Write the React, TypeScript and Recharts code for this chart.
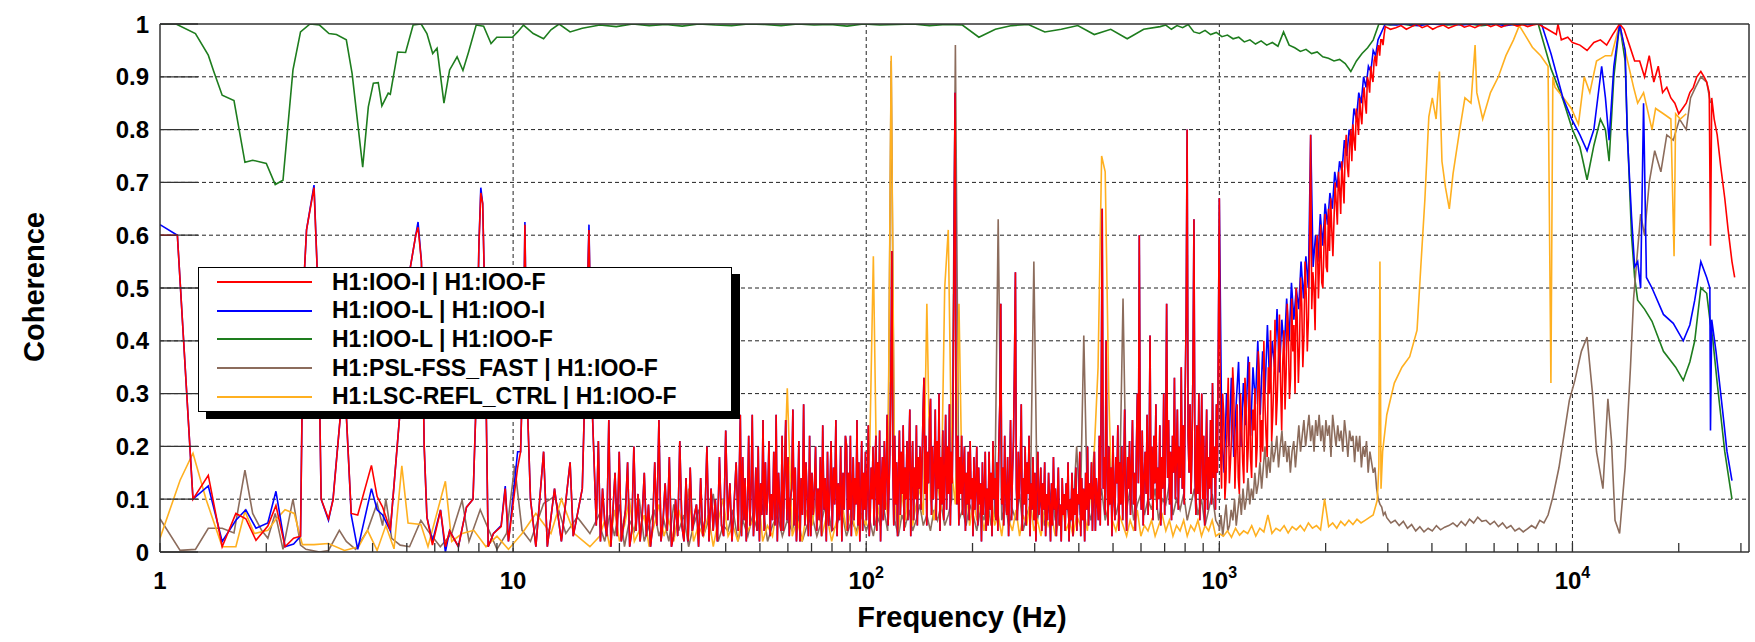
import React from 'react'
import { LineChart, Line, XAxis, YAxis, ReferenceLine } from 'recharts'

type Pt = { f: number; v: number }

const FONT = '"Liberation Sans", Arial, Helvetica, sans-serif'

// ---- axes ----
const freqRange: [number, number] = [1, 31623]
const decades = [1, 10, 100, 1000, 10000]
const freqMinor = decades
    .flatMap(d => [1, 2, 3, 4, 5, 6, 7, 8, 9].map(m => m * d))
    .filter(f => f <= 30000)
const cohTicks = [0, 0.1, 0.2, 0.3, 0.4, 0.5, 0.6, 0.7, 0.8, 0.9, 1]
const cohLabels = ['0', '0.1', '0.2', '0.3', '0.4', '0.5', '0.6', '0.7', '0.8', '0.9', '1']
const cohMinor = Array.from({ length: 51 }, (_, i) => i / 50)
const gridCoh = [0.1, 0.2, 0.3, 0.4, 0.5, 0.6, 0.7, 0.8, 0.9]
const gridFreq = [10, 100, 1000, 10000]

// ---- 1 - 17 Hz, common frequency grid for the IOO-I and IOO-L traces ----
const lowFreq = [1, 1.12, 1.24, 1.37, 1.5, 1.64, 1.75, 1.87, 2.02, 2.13, 2.26, 2.39, 2.5, 2.55, 2.6,
    2.73, 2.8, 2.86, 3.0, 3.09, 3.24, 3.37, 3.48, 3.63, 3.97, 4.12, 4.27, 4.49, 4.77, 5.0, 5.3, 5.38,
    5.5, 5.6, 5.7, 5.91, 6.23, 6.43, 6.61, 7.0, 7.38, 7.7, 7.86, 8.0, 8.1, 8.2, 8.3, 8.4, 8.5, 8.8,
    9.25, 9.5, 9.7, 10.3, 10.5, 10.7, 10.8, 10.95, 11.2, 11.6, 12.2, 12.5, 13.1, 13.7, 14.5, 14.8,
    15.7, 16.1, 16.4, 16.7, 17.2]

// H1:IOO-I | H1:IOO-F
const ioiLow = [0.6, 0.6, 0.1, 0.145, 0.01, 0.073, 0.063, 0.022, 0.049, 0.088, 0.01, 0.026, 0.03, 0.5,
    0.61, 0.69, 0.5, 0.1, 0.063, 0.098, 0.256, 0.26, 0.073, 0.07, 0.164, 0.105, 0.085, 0.041, 0.256, 0.5,
    0.6, 0.615, 0.55, 0.2, 0.066, 0.013, 0.079, 0.01, 0.04, 0.01, 0.085, 0.1, 0.29, 0.58, 0.68, 0.66,
    0.5, 0.25, 0.01, 0.035, 0.048, 0.12, 0.02, 0.16, 0.19, 0.4, 0.62, 0.3, 0.1, 0.01, 0.19, 0.01, 0.12,
    0.02, 0.17, 0.03, 0.12, 0.4, 0.61, 0.3, 0.05]
const ioi17to44 = [0.05, 0.21, 0.02, 0.12, 0.06, 0.03, 0.25, 0.01, 0.08, 0.15, 0.03, 0.19, 0.02, 0.05,
    0.08, 0.17, 0.01, 0.04, 0.2, 0.04, 0.11, 0.02, 0.07, 0.15, 0.03, 0.09, 0.01, 0.05, 0.17, 0.05, 0.25,
    0.02, 0.06, 0.13, 0.04, 0.18, 0.01, 0.03, 0.1, 0.03, 0.21, 0.05, 0.02, 0.14, 0.02, 0.16, 0.04, 0.07,
    0.09, 0.01, 0.14, 0.03, 0.06, 0.2, 0.02, 0.12, 0.04, 0.1, 0.02, 0.18, 0.05, 0.03, 0.23, 0.06, 0.13,
    0.02, 0.09, 0.17, 0.04, 0.26]
const ioi44to88 = [0.26, 0.03, 0.18, 0.06, 0.14, 0.02, 0.09, 0.22, 0.05, 0.12, 0.26, 0.03, 0.08, 0.16,
    0.04, 0.2, 0.02, 0.13, 0.07, 0.25, 0.04, 0.17, 0.07, 0.11, 0.21, 0.03, 0.11, 0.06, 0.19, 0.05, 0.26,
    0.02, 0.15, 0.09, 0.04, 0.22, 0.04, 0.14, 0.25, 0.06, 0.18, 0.03, 0.1, 0.12, 0.27, 0.05, 0.16, 0.02,
    0.08, 0.21, 0.02, 0.14, 0.07, 0.28, 0.05, 0.17, 0.1, 0.03, 0.22, 0.03, 0.15, 0.07, 0.12, 0.2, 0.04,
    0.12, 0.06, 0.18, 0.03, 0.24, 0.08, 0.14, 0.02, 0.19, 0.05, 0.11, 0.21, 0.04, 0.16, 0.09, 0.25, 0.03,
    0.13, 0.06, 0.2, 0.02, 0.15, 0.08, 0.22, 0.2]
const ioi88to220 = [0.2, 0.04, 0.15, 0.08, 0.22, 0.03, 0.12, 0.18, 0.06, 0.14,
    0.09, 0.25, 0.05, 0.17, 0.02, 0.11, 0.21, 0.04, 0.15, 0.08,
    0.19, 0.06, 0.13, 0.24, 0.03, 0.07, 0.16, 0.1, 0.2, 0.05,
    0.14, 0.22, 0.04, 0.17, 0.09, 0.23, 0.02, 0.13, 0.18, 0.06,
    0.21, 0.08, 0.15, 0.26, 0.05, 0.12, 0.2, 0.35, 0.57, 0.16,
    0.05, 0.22, 0.09, 0.17, 0.03, 0.15, 0.23, 0.07, 0.19, 0.11,
    0.24, 0.04, 0.16, 0.1, 0.21, 0.06, 0.18, 0.27, 0.03, 0.14,
    0.21, 0.06, 0.16, 0.1, 0.24, 0.05, 0.18, 0.12, 0.2, 0.08,
    0.17, 0.26, 0.33, 0.11, 0.22, 0.05, 0.19, 0.13, 0.25, 0.29,
    0.07, 0.2, 0.1, 0.16, 0.27, 0.06, 0.21, 0.12, 0.3, 0.04,
    0.18, 0.09, 0.23, 0.06, 0.15, 0.26, 0.08, 0.2, 0.11, 0.28,
    0.05, 0.19, 0.13, 0.31, 0.6, 0.87, 0.24, 0.09, 0.22, 0.05,
    0.18, 0.11, 0.22, 0.07, 0.16, 0.2, 0.04, 0.15, 0.09, 0.19,
    0.06, 0.21, 0.1, 0.14, 0.03, 0.18, 0.08, 0.12, 0.2, 0.05,
    0.16, 0.09, 0.13, 0.02, 0.17, 0.07, 0.11, 0.19, 0.04, 0.12]
const ioi220to440 = [0.12, 0.05, 0.19, 0.08, 0.15, 0.03, 0.21, 0.1, 0.14, 0.06,
    0.17, 0.04, 0.2, 0.28, 0.47, 0.09, 0.16, 0.05, 0.22, 0.11,
    0.07, 0.18, 0.03, 0.13, 0.25, 0.06, 0.15, 0.21, 0.35, 0.53,
    0.12, 0.06, 0.19, 0.1, 0.16, 0.28, 0.04, 0.14, 0.09, 0.2,
    0.05, 0.17, 0.11, 0.22, 0.03, 0.13, 0.08, 0.18, 0.06, 0.15,
    0.02, 0.12, 0.19, 0.07, 0.1, 0.16, 0.04, 0.13, 0.08, 0.17,
    0.03, 0.11, 0.06, 0.15, 0.09, 0.02, 0.13, 0.05, 0.18, 0.08,
    0.12, 0.03, 0.1, 0.16, 0.05, 0.09, 0.02, 0.14, 0.07, 0.11,
    0.04, 0.13, 0.08, 0.17, 0.02, 0.1, 0.06, 0.15, 0.03, 0.12,
    0.07, 0.16, 0.04, 0.11, 0.09, 0.19, 0.03, 0.14, 0.06, 0.12,
    0.02, 0.15, 0.08, 0.2, 0.05, 0.13, 0.1, 0.17, 0.04, 0.12]
const ioi440to1k = [0.12, 0.19, 0.04, 0.14, 0.1, 0.06, 0.22, 0.05, 0.3, 0.65,
    0.12, 0.18, 0.07, 0.4, 0.15, 0.05, 0.2, 0.09, 0.16, 0.03,
    0.22, 0.11, 0.06, 0.18, 0.13, 0.24, 0.04, 0.17, 0.09, 0.2,
    0.06, 0.14, 0.27, 0.1, 0.04, 0.18, 0.12, 0.21, 0.07, 0.16,
    0.25, 0.09, 0.15, 0.04, 0.19, 0.3, 0.13, 0.6, 0.18, 0.08,
    0.23, 0.05, 0.14, 0.19, 0.11, 0.26, 0.07, 0.17, 0.41, 0.1,
    0.2, 0.06, 0.22, 0.13, 0.28, 0.08, 0.16, 0.1, 0.24, 0.05,
    0.18, 0.12, 0.3, 0.07, 0.21, 0.47, 0.14, 0.25, 0.09, 0.19,
    0.06, 0.22, 0.15, 0.33, 0.1, 0.18, 0.27, 0.08, 0.2, 0.14,
    0.35, 0.12, 0.24, 0.09, 0.3, 0.45, 0.8, 0.22, 0.15, 0.28,
    0.11, 0.2, 0.35, 0.63, 0.15, 0.07, 0.24, 0.11, 0.3, 0.06,
    0.19, 0.3, 0.1, 0.22, 0.05, 0.15, 0.27, 0.08, 0.18, 0.12,
    0.25, 0.09, 0.32, 0.14, 0.2, 0.08, 0.28, 0.15, 0.4, 0.67]
const ioiRise = [0.67, 0.2, 0.12, 0.3, 0.26, 0.1, 0.14, 0.25, 0.33, 0.13,
    0.17, 0.22, 0.35, 0.3, 0.12, 0.19, 0.28, 0.14, 0.11, 0.3,
    0.24, 0.17, 0.13, 0.33, 0.29, 0.15, 0.2, 0.36, 0.18, 0.14,
    0.27, 0.23, 0.31, 0.16, 0.2, 0.38, 0.33, 0.17, 0.25, 0.19,
    0.4, 0.28, 0.22, 0.18, 0.35, 0.3, 0.42, 0.21, 0.26, 0.33,
    0.44, 0.24, 0.29, 0.37, 0.45, 0.32, 0.23, 0.36, 0.42, 0.27,
    0.34, 0.47, 0.41, 0.29, 0.33, 0.48, 0.38, 0.43, 0.3, 0.5,
    0.44, 0.32, 0.39, 0.52, 0.47, 0.35, 0.41, 0.55, 0.49, 0.38,
    0.44, 0.57, 0.79, 0.46, 0.53, 0.5, 0.42, 0.58, 0.6, 0.48,
    0.55, 0.62, 0.51, 0.5, 0.58, 0.64, 0.54, 0.53, 0.65, 0.57,
    0.67, 0.61, 0.56, 0.63, 0.7, 0.66, 0.62, 0.72, 0.69, 0.64,
    0.74, 0.7, 0.66, 0.76, 0.79, 0.73, 0.71, 0.77, 0.8, 0.74,
    0.81, 0.78, 0.76, 0.84, 0.82, 0.79, 0.86, 0.83, 0.81, 0.86,
    0.88, 0.85, 0.83, 0.9, 0.89, 0.87, 0.92, 0.9, 0.89, 0.93,
    0.94, 0.92, 0.95, 0.96, 0.94, 0.97, 0.97, 0.96, 0.98, 0.995]
const ioiFlat = [0.995, 0.99, 0.993, 0.997, 0.99, 0.995, 1.0, 0.993, 0.997, 0.99, 0.995, 0.998, 0.992,
    0.996, 1.0, 0.994, 0.997, 0.993, 0.998, 1.0, 0.995, 0.999, 0.994, 0.998, 1.0, 0.996, 0.999, 0.995,
    0.998, 1.0]
const ioiHighFreq = [8000, 8500, 9000, 9100, 9300, 9700, 10000, 10500, 11000, 11500, 12000, 12500,
    13000, 13600, 14000, 14500, 15000, 15500, 16000, 16500, 17000, 17500, 18000, 18500, 19000, 19500,
    20000, 20500, 21000, 21500, 22000, 22500, 23100, 23600, 24000, 24400, 24600, 24800, 25200, 25700,
    26300, 27000, 27600, 28300, 28800]
const ioiHigh = [1.0, 0.99, 0.98, 1.0, 0.97, 0.975, 0.965, 0.96, 0.95, 0.965, 0.97, 0.96, 0.98, 1.0,
    0.99, 0.96, 0.93, 0.93, 0.9, 0.94, 0.89, 0.92, 0.87, 0.88, 0.86, 0.85, 0.83, 0.84, 0.85, 0.87, 0.88,
    0.9, 0.91, 0.9, 0.89, 0.87, 0.58, 0.86, 0.82, 0.79, 0.73, 0.67, 0.61, 0.55, 0.52]

// H1:IOO-L | H1:IOO-I (follows IOO-I | IOO-F between 17 Hz and 1 kHz)
const iolLow = [0.62, 0.6, 0.1, 0.125, 0.02, 0.06, 0.08, 0.045, 0.055, 0.115, 0.01, 0.015, 0.03, 0.5,
    0.61, 0.695, 0.5, 0.1, 0.06, 0.1, 0.256, 0.26, 0.07, 0.005, 0.12, 0.08, 0.07, 0.04, 0.256, 0.5,
    0.6, 0.625, 0.55, 0.2, 0.066, 0.02, 0.08, 0.0, 0.04, 0.01, 0.085, 0.1, 0.29, 0.58, 0.69, 0.66, 0.5,
    0.25, 0.01, 0.035, 0.05, 0.125, 0.02, 0.19, 0.19, 0.4, 0.625, 0.3, 0.1, 0.01, 0.19, 0.01, 0.12,
    0.02, 0.17, 0.03, 0.12, 0.4, 0.62, 0.3, 0.05]
const iolRise = [0.67, 0.22, 0.15, 0.3, 0.2, 0.33, 0.18, 0.28, 0.36, 0.2,
    0.32, 0.24, 0.37, 0.22, 0.35, 0.28, 0.4, 0.26, 0.38, 0.3,
    0.43, 0.31, 0.4, 0.35, 0.46, 0.34, 0.44, 0.38, 0.48, 0.4,
    0.51, 0.44, 0.5, 0.46, 0.55, 0.48, 0.56, 0.5, 0.79, 0.54,
    0.6, 0.55, 0.64, 0.58, 0.66, 0.62, 0.68, 0.65, 0.72, 0.69,
    0.74, 0.72, 0.78, 0.75, 0.8, 0.78, 0.84, 0.82, 0.87, 0.85,
    0.9, 0.88, 0.92, 0.91, 0.95, 0.94, 0.97, 0.98, 0.99, 1.0]
const iolFlat = [1.0, 0.998, 1.0, 0.997, 1.0, 0.999, 1.0, 0.998, 1.0, 0.999, 1.0, 0.997, 1.0, 0.999, 1.0]
const iolHighFreq = [8000, 8200, 8700, 9400, 9950, 10500, 11000, 11500, 12100, 12400, 12700, 13100,
    13600, 14100, 14300, 14700, 15000, 15300, 15600, 15900, 16200, 16800, 18100, 19300, 20600, 21500,
    22200, 23100, 24000, 24500, 24600, 24800, 25500, 26600, 27400, 28300]
const iolHigh = [1.0, 0.997, 0.943, 0.86, 0.82, 0.79, 0.76, 0.8, 0.92, 0.86, 0.78, 0.92, 1.0, 0.95,
    0.79, 0.636, 0.54, 0.55, 0.5, 0.85, 0.52, 0.5, 0.45, 0.433, 0.4, 0.43, 0.477, 0.55, 0.52, 0.5, 0.23,
    0.44, 0.38, 0.27, 0.19, 0.135]

// H1:IOO-L | H1:IOO-F
const iofLowFreq = [1, 1.11, 1.26, 1.37, 1.42, 1.5, 1.62, 1.74, 1.83, 2.0, 2.12, 2.23, 2.38, 2.5, 2.66,
    2.83, 3.01, 3.16, 3.37, 3.5, 3.75, 3.89, 4.02, 4.15, 4.25, 4.43, 4.49, 4.71, 4.96, 5.21, 5.49, 5.7,
    5.92, 6.09, 6.37, 6.61, 6.94, 7.21, 7.48, 7.86, 8.25, 8.66, 8.99, 9.95, 10.3, 10.7, 11.4, 12.2,
    12.8, 13.5, 14.5, 15.7, 17.6]
const iofLow = [1.0, 1.0, 0.982, 0.941, 0.91, 0.865, 0.855, 0.738, 0.742, 0.736, 0.696, 0.704, 0.913,
    0.985, 1.0, 0.998, 0.982, 0.98, 0.97, 0.906, 0.729, 0.843, 0.888, 0.889, 0.845, 0.869, 0.867, 0.947,
    0.946, 0.998, 1.0, 0.982, 0.944, 0.954, 0.85, 0.913, 0.938, 0.912, 0.947, 0.998, 0.996, 0.963,
    0.975, 0.975, 0.985, 0.998, 0.982, 0.972, 0.989, 1.0, 0.985, 0.992, 0.998]
const iofMid = [0.998, 0.995, 1.0, 0.997, 0.999, 0.996, 1.0, 0.998, 0.997, 1.0, 0.999, 0.997, 1.0,
    0.998, 0.999, 0.996, 1.0, 0.998, 0.999, 1.0, 0.997, 0.999, 0.998, 0.975, 0.99, 0.997, 0.999, 0.985,
    0.99, 0.997, 0.98, 0.99, 0.972, 0.99, 0.995]
const iofDip = [0.995, 0.998, 0.99, 0.997, 0.993, 0.999, 0.985, 0.982, 0.988, 0.98, 0.984, 0.976,
    0.979, 0.972, 0.975, 0.966, 0.97, 0.962, 0.968, 0.96, 0.965, 0.958, 0.985, 0.96, 0.955, 0.948,
    0.952, 0.944, 0.947, 0.938, 0.935, 0.93, 0.933, 0.925, 0.91, 0.93, 0.944, 0.955, 0.97, 1.0]
const iofFlat = [1.0, 0.998, 1.0, 0.997, 0.999, 1.0, 0.998, 0.999, 1.0, 0.997, 0.999, 1.0, 0.998, 0.999, 1.0]
const iofHighFreq = [8000, 8700, 9400, 10000, 10500, 11000, 11500, 12000, 12400, 12700, 13100, 13600,
    14100, 14300, 14700, 15000, 15300, 16000, 16800, 18100, 19600, 20600, 21500, 22200, 23100, 24000,
    24500, 25000, 25700, 27000, 28300]
const iofHigh = [1.0, 0.915, 0.857, 0.8, 0.767, 0.705, 0.77, 0.82, 0.8, 0.74, 0.9, 1.0, 0.93, 0.8, 0.6,
    0.52, 0.477, 0.46, 0.437, 0.38, 0.35, 0.325, 0.36, 0.4, 0.5, 0.49, 0.44, 0.4, 0.32, 0.19, 0.1]

// H1:PSL-FSS_FAST | H1:IOO-F
const fssLowFreq = [1, 1.14, 1.26, 1.37, 1.5, 1.62, 1.74, 1.83, 1.94, 2.02, 2.12, 2.23, 2.38, 2.5,
    2.59, 2.83, 3.0, 3.22, 3.37, 3.58, 3.87, 4.12, 4.27, 4.36, 4.53, 4.79, 5.09, 5.48, 5.74, 6.22, 6.7,
    7.17, 7.5, 8.07, 8.73, 9.0, 9.58, 10.1, 10.6, 11.2, 12.2, 13.1, 14.1, 15.2, 16.5, 17.6]
const fssLow = [0.063, 0.003, 0.005, 0.045, 0.045, 0.036, 0.155, 0.073, 0.041, 0.026, 0.073, 0.005,
    0.1, 0.013, 0.005, 0.0, 0.003, 0.041, 0.02, 0.005, 0.041, 0.092, 0.05, 0.1, 0.026, 0.013, 0.01,
    0.06, 0.04, 0.01, 0.035, 0.098, 0.02, 0.08, 0.026, 0.005, 0.035, 0.163, 0.041, 0.02, 0.092, 0.105,
    0.035, 0.066, 0.035, 0.073]
const fss17to100 = [0.05, 0.02, 0.07, 0.03, 0.09, 0.01, 0.06, 0.04, 0.1, 0.02, 0.05, 0.08, 0.03, 0.06,
    0.02, 0.09, 0.04, 0.07, 0.01, 0.05, 0.08, 0.03, 0.06, 0.11, 0.02, 0.05, 0.04, 0.08, 0.02, 0.06, 0.03,
    0.07, 0.04, 0.09, 0.02, 0.05, 0.07, 0.03, 0.06, 0.04, 0.08, 0.02, 0.05, 0.07, 0.03, 0.06, 0.1, 0.04,
    0.05, 0.08, 0.03, 0.06, 0.04, 0.07, 0.04]
const fss100to1k = [0.04, 0.06, 0.03, 0.07, 0.05, 0.08, 0.04, 0.93, 0.06, 0.03,
    0.07, 0.05, 0.08, 0.04, 0.06, 0.09, 0.05, 0.07, 0.04, 0.08,
    0.06, 0.09, 0.05, 0.07, 0.1, 0.96, 0.06, 0.08, 0.05, 0.09,
    0.07, 0.04, 0.08, 0.06, 0.1, 0.05, 0.07, 0.63, 0.06, 0.09,
    0.05, 0.08, 0.06, 0.11, 0.04, 0.07, 0.09, 0.55, 0.06, 0.1,
    0.05, 0.08, 0.12, 0.06, 0.09, 0.07, 0.11, 0.05, 0.08, 0.2,
    0.07, 0.41, 0.09, 0.06, 0.1, 0.08, 0.12, 0.06, 0.09, 0.11,
    0.07, 0.1, 0.48, 0.08, 0.12, 0.06, 0.09, 0.11, 0.07, 0.1,
    0.08, 0.12, 0.06, 0.1, 0.09, 0.13, 0.07, 0.1, 0.08, 0.11,
    0.06, 0.09, 0.12, 0.07, 0.1, 0.05, 0.08, 0.11, 0.06, 0.047]
const fssHump = [0.04, 0.07, 0.03, 0.06, 0.09, 0.04, 0.05, 0.08, 0.06, 0.1,
    0.05, 0.08, 0.11, 0.07, 0.12, 0.08, 0.1, 0.14, 0.09, 0.12,
    0.1, 0.15, 0.11, 0.13, 0.17, 0.12, 0.16, 0.2, 0.14, 0.18,
    0.15, 0.21, 0.17, 0.19, 0.22, 0.16, 0.2, 0.23, 0.18, 0.21,
    0.17, 0.2, 0.15, 0.19, 0.21, 0.16, 0.2, 0.24, 0.19, 0.22,
    0.25, 0.2, 0.23, 0.26, 0.21, 0.24, 0.19, 0.25, 0.22, 0.26,
    0.21, 0.24, 0.19, 0.25, 0.22, 0.24, 0.18, 0.26, 0.23, 0.2,
    0.24, 0.21, 0.23, 0.19, 0.25, 0.22, 0.18, 0.23, 0.21, 0.22,
    0.17, 0.22, 0.19, 0.22, 0.16, 0.2, 0.18, 0.21, 0.15, 0.19,
    0.17, 0.15, 0.16, 0.12, 0.1, 0.09, 0.085, 0.07, 0.075, 0.065]
const fssQuiet = [0.065, 0.055, 0.06, 0.05, 0.058, 0.045, 0.052, 0.04, 0.048, 0.038, 0.045, 0.04, 0.05,
    0.042, 0.047, 0.05, 0.055, 0.048, 0.058, 0.05, 0.062, 0.055, 0.066, 0.058, 0.06, 0.052, 0.058,
    0.048, 0.055, 0.045, 0.05, 0.04, 0.045, 0.038, 0.044, 0.05, 0.045, 0.06, 0.055, 0.07]
const fssHighFreq = [8800, 9160, 9800, 10160, 10600, 11000, 11400, 11700, 12200, 12600, 12900, 13200,
    13600, 14100, 14600, 14900, 15200, 15600, 16000, 16500, 17100, 17800, 18500, 19300, 20100, 21000,
    21600, 22300, 23100, 24000, 24600]
const fssHigh = [0.104, 0.16, 0.287, 0.325, 0.38, 0.407, 0.3, 0.19, 0.12, 0.29, 0.21, 0.06, 0.035, 0.16,
    0.35, 0.48, 0.55, 0.64, 0.6, 0.7, 0.76, 0.72, 0.79, 0.78, 0.82, 0.8, 0.86, 0.88, 0.9, 0.89, 0.85]

// H1:LSC-REFL_CTRL | H1:IOO-F
const reflLowFreq = [1, 1.14, 1.24, 1.35, 1.5, 1.64, 1.74, 1.85, 2.02, 2.12, 2.26, 2.4, 2.53, 2.73, 3.0,
    3.33, 3.65, 3.87, 4.12, 4.36, 4.6, 4.84, 5.04, 5.48, 5.74, 6.43, 6.7, 7.17, 7.74, 8.38, 9.0, 9.7,
    10.6, 11.6, 12.8, 13.7, 14.9, 16.5, 17.6]
const reflLow = [0.026, 0.136, 0.187, 0.1, 0.01, 0.01, 0.077, 0.035, 0.041, 0.06, 0.08, 0.073, 0.014,
    0.014, 0.016, 0.003, 0.01, 0.041, 0.003, 0.05, 0.006, 0.163, 0.055, 0.052, 0.01, 0.134, 0.02, 0.035,
    0.041, 0.01, 0.03, 0.005, 0.035, 0.073, 0.035, 0.1, 0.035, 0.01, 0.03]
const refl17to100 = [0.03, 0.06, 0.01, 0.08, 0.02, 0.05, 0.1, 0.02, 0.04, 0.07, 0.01, 0.05, 0.09, 0.03,
    0.06, 0.02, 0.08, 0.04, 0.12, 0.02, 0.05, 0.03, 0.07, 0.01, 0.06, 0.1, 0.03, 0.05, 0.02, 0.08, 0.04,
    0.06, 0.13, 0.02, 0.05, 0.03, 0.09, 0.04, 0.31, 0.03, 0.06, 0.02, 0.08, 0.05, 0.11, 0.03, 0.07, 0.02,
    0.06, 0.1, 0.04, 0.08, 0.03, 0.07, 0.05]
const refl100to1k = [0.08, 0.2, 0.56, 0.1, 0.05, 0.12, 0.07, 0.94, 0.09, 0.04,
    0.11, 0.06, 0.14, 0.05, 0.09, 0.12, 0.07, 0.47, 0.1, 0.06,
    0.13, 0.08, 0.5, 0.61, 0.15, 0.09, 0.47, 0.07, 0.12, 0.05,
    0.1, 0.06, 0.09, 0.04, 0.08, 0.11, 0.05, 0.07, 0.03, 0.09,
    0.06, 0.04, 0.08, 0.03, 0.07, 0.05, 0.1, 0.04, 0.06, 0.03,
    0.08, 0.05, 0.07, 0.03, 0.06, 0.09, 0.04, 0.06, 0.03, 0.07,
    0.05, 0.08, 0.04, 0.12, 0.2, 0.35, 0.75, 0.72, 0.3, 0.06,
    0.04, 0.07, 0.05, 0.03, 0.06, 0.04, 0.08, 0.03, 0.05, 0.04,
    0.06, 0.03, 0.05, 0.07, 0.04, 0.06, 0.03, 0.05, 0.04, 0.06,
    0.03, 0.05, 0.04, 0.06, 0.03, 0.05, 0.04, 0.06, 0.03, 0.035]
const reflFloor = [0.035, 0.03, 0.04, 0.028, 0.045, 0.032, 0.04, 0.035, 0.05, 0.03, 0.045, 0.038, 0.07,
    0.035, 0.045, 0.04, 0.05, 0.036, 0.048, 0.042, 0.05, 0.04, 0.055, 0.045, 0.05, 0.042, 0.1, 0.048,
    0.055, 0.045, 0.058, 0.05, 0.06, 0.052, 0.062, 0.055, 0.06, 0.065, 0.07, 0.098]
const reflHighFreq = [2830, 2850, 2870, 2900, 2980, 3130, 3290, 3460, 3630, 3720, 3820, 3920, 4010,
    4110, 4200, 4270, 4370, 4480, 4590, 4770, 4960, 5160, 5300, 5360, 5570, 5860, 6170, 6480, 6810,
    7070, 7330, 7700, 8130, 8530, 8690, 8800, 8930, 9440, 9930, 10400, 10800, 11200, 11700, 12400,
    12900, 13600, 14100, 14900, 15300, 15900, 16800, 17200, 18100, 19000, 19400, 19600, 20200, 21000]
const reflHigh = [0.16, 0.55, 0.12, 0.19, 0.26, 0.32, 0.35, 0.37, 0.42, 0.54, 0.667, 0.824, 0.86, 0.82,
    0.91, 0.74, 0.69, 0.65, 0.716, 0.79, 0.86, 0.85, 0.96, 0.87, 0.82, 0.87, 0.9, 0.94, 0.97, 0.997,
    0.98, 0.956, 0.94, 0.92, 0.32, 0.9, 0.88, 0.86, 0.84, 0.81, 0.9, 0.87, 0.93, 0.94, 0.94, 1.0, 0.95,
    0.88, 0.85, 0.87, 0.8, 0.84, 0.83, 0.82, 0.56, 0.83, 0.82, 0.83]

// pair up explicit frequencies with values
const pairs = (freqs: number[], vals: number[]): Pt[] => freqs.map((f, i) => ({ f, v: vals[i] }))
// dense stretches: samples sit evenly in log-frequency between the two band edges
const band = (from: number, to: number, vals: number[]): Pt[] =>
    vals.map((v, i) => ({ f: from * Math.pow(to / from, i / (vals.length - 1)), v }))

const ioiBelow1k = [
    ...band(17.2, 44, ioi17to44),
    ...band(44, 88, ioi44to88),
    ...band(88, 220, ioi88to220),
    ...band(220, 440, ioi220to440),
    ...band(440, 1000, ioi440to1k),
]

const ioiPts = [
    ...pairs(lowFreq, ioiLow),
    ...ioiBelow1k,
    ...band(1000, 2950, ioiRise),
    ...band(2950, 8000, ioiFlat),
    ...pairs(ioiHighFreq, ioiHigh),
]
const iolPts = [
    ...pairs(lowFreq, iolLow),
    ...ioiBelow1k,
    ...band(1000, 2950, iolRise),
    ...band(2950, 8000, iolFlat),
    ...pairs(iolHighFreq, iolHigh),
]
const iofPts = [
    ...pairs(iofLowFreq, iofLow),
    ...band(17.6, 680, iofMid),
    ...band(680, 2830, iofDip),
    ...band(2830, 8000, iofFlat),
    ...pairs(iofHighFreq, iofHigh),
]
const fssPts = [
    ...pairs(fssLowFreq, fssLow),
    ...band(17.6, 100, fss17to100),
    ...band(100, 1000, fss100to1k),
    ...band(1000, 2980, fssHump),
    ...band(2980, 8530, fssQuiet),
    ...pairs(fssHighFreq, fssHigh),
]
const reflPts = [
    ...pairs(reflLowFreq, reflLow),
    ...band(17.6, 100, refl17to100),
    ...band(100, 1000, refl100to1k),
    ...band(1000, 2800, reflFloor),
    ...pairs(reflHighFreq, reflHigh),
]

const series = [
    { name: 'H1:IOO-I | H1:IOO-F', color: '#ff0000', data: ioiPts },
    { name: 'H1:IOO-L | H1:IOO-I', color: '#0000ff', data: iolPts },
    { name: 'H1:IOO-L | H1:IOO-F', color: '#1e7d1e', data: iofPts },
    { name: 'H1:PSL-FSS_FAST | H1:IOO-F', color: '#8c6c5c', data: fssPts },
    { name: 'H1:LSC-REFL_CTRL | H1:IOO-F', color: '#ffb020', data: reflPts },
]
// back to front
const drawOrder = [2, 3, 4, 1, 0]

const isDecade = (f: number) => decades.includes(f)

const FreqTick = ({ x, y, payload }: any) => {
    const f = payload.value
    if (!isDecade(f)) return <g />
    const n = Math.round(Math.log10(f))
    const common = { x, y: y + 37, textAnchor: 'middle' as const, fontSize: 24, fontWeight: 700, fontFamily: FONT, fill: '#000' }
    if (n < 2) return <text {...common}>{n === 0 ? '1' : '10'}</text>
    return (
        <text {...common}>
            <tspan>10</tspan>
            <tspan dy={-11} fontSize={16}>{n}</tspan>
        </text>
    )
}

const frameStroke = { stroke: '#333', strokeWidth: 1.5 }
const tickStroke = { stroke: '#333', strokeWidth: 1.3 }

function LegendBox() {
    return (
        <div
            style={{
                position: 'absolute', left: 198, top: 267, width: 532, height: 143,
                border: '1.5px solid #000', background: '#fff', boxShadow: '8px 7px 0 #000',
                fontFamily: FONT, fontWeight: 700, fontSize: 23, color: '#000',
            }}
        >
            {series.map(s => (
                <div key={s.name} style={{ display: 'flex', alignItems: 'center', height: 28.6 }}>
                    <div style={{ marginLeft: 18, width: 95, borderTop: `2px solid ${s.color}` }} />
                    <span style={{ marginLeft: 20, whiteSpace: 'nowrap' }}>{s.name}</span>
                </div>
            ))}
        </div>
    )
}

export default function App() {
    return (
        <div style={{ position: 'absolute', left: 0, top: 0, width: 1755, height: 642, background: '#fff' }}>
            <LineChart width={1755} height={642} margin={{ top: 23, right: 4, bottom: 88, left: 158 }}>
                <XAxis xAxisId="b" dataKey="f" type="number" scale="log" domain={freqRange} allowDataOverflow
                    ticks={freqMinor} interval={0} height={1} tickSize={-9} tickMargin={9}
                    tickLine={tickStroke} axisLine={frameStroke} tick={<FreqTick />} />
                <XAxis xAxisId="bMaj" dataKey="f" type="number" scale="log" domain={freqRange} allowDataOverflow
                    ticks={decades} interval={0} height={1} tickSize={-18} tick={false}
                    tickLine={tickStroke} axisLine={false} />
                <XAxis xAxisId="t" orientation="top" dataKey="f" type="number" scale="log" domain={freqRange}
                    allowDataOverflow ticks={freqMinor} interval={0} height={1} tickSize={-9} tick={false}
                    tickLine={tickStroke} axisLine={frameStroke} />
                <YAxis yAxisId="L" type="number" domain={[0, 1]} allowDataOverflow ticks={cohTicks} interval={0}
                    width={1} tickSize={-38} tickMargin={49} tickLine={tickStroke} axisLine={frameStroke}
                    tickFormatter={(v: number) => cohLabels[cohTicks.indexOf(v)] ?? ''}
                    tick={{ fill: '#000', fontSize: 24, fontWeight: 700, fontFamily: FONT }} />
                <YAxis yAxisId="Lm" type="number" domain={[0, 1]} allowDataOverflow ticks={cohMinor} interval={0}
                    width={1} tickSize={-21} tick={false} tickLine={tickStroke} axisLine={false} />
                <YAxis yAxisId="R" orientation="right" type="number" domain={[0, 1]} allowDataOverflow
                    ticks={cohTicks} interval={0} width={1} tickSize={-38} tick={false} tickLine={tickStroke}
                    axisLine={frameStroke} />
                <YAxis yAxisId="Rm" orientation="right" type="number" domain={[0, 1]} allowDataOverflow
                    ticks={cohMinor} interval={0} width={1} tickSize={-21} tick={false} tickLine={tickStroke}
                    axisLine={false} />

                {gridCoh.map(c => (
                    <ReferenceLine key={`h${c}`} xAxisId="b" yAxisId="L" y={c} stroke="#222" strokeWidth={1}
                        strokeDasharray="4 3" />
                ))}
                {gridFreq.map(f => (
                    <ReferenceLine key={`v${f}`} xAxisId="b" yAxisId="L" x={f} stroke="#222" strokeWidth={1}
                        strokeDasharray="4 3" />
                ))}

                {drawOrder.map(i => (
                    <Line key={series[i].name} name={series[i].name} data={series[i].data} dataKey="v"
                        xAxisId="b" yAxisId="L" type="linear" stroke={series[i].color} strokeWidth={1.6}
                        dot={false} activeDot={false} isAnimationActive={false} />
                ))}
            </LineChart>

            <LegendBox />

            <div style={{
                position: 'absolute', left: 34, top: 287, transform: 'translate(-50%, -50%) rotate(-90deg)',
                fontFamily: FONT, fontWeight: 700, fontSize: 29, whiteSpace: 'nowrap', color: '#000',
            }}>
                Coherence
            </div>
            <div style={{
                position: 'absolute', left: 962, top: 617, transform: 'translate(-50%, -50%)',
                fontFamily: FONT, fontWeight: 700, fontSize: 29, whiteSpace: 'nowrap', color: '#000',
            }}>
                Frequency (Hz)
            </div>
        </div>
    )
}
